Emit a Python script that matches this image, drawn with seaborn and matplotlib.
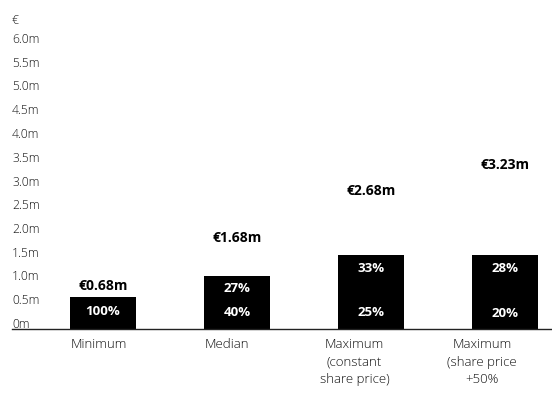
import numpy as np
import pandas as pd
import seaborn as sns
import matplotlib.pyplot as plt
from matplotlib.transforms import ScaledTranslation

# Remuneration scenarios (€m) and the share of each pay element (%)
categories = ["Minimum", "Median", "Maximum\n(constant\nshare price)", "Maximum\n(share price\n+50%"]
total_pay = [0.68, 1.68, 2.68, 3.23]
fixed_share = [100, 40, 25, 20]
bonus_share = [0, 27, 33, 28]
long_term_share = [0, 33, 42, 52]

y_ticks = [0.0, 0.5, 1.0, 1.5, 2.0, 2.5, 3.0, 3.5, 4.0, 4.5, 5.0, 5.5, 6.0]
y_tick_labels = ["0m", "0.5m", "1.0m", "1.5m", "2.0m", "2.5m", "3.0m",
                 "3.5m", "4.0m", "4.5m", "5.0m", "5.5m", "6.0m"]

TEXT = "#111111"

sns.set_theme(style="white")
plt.rcParams["font.family"] = ["Open Sans", "DejaVu Sans"]
plt.rcParams["font.weight"] = "light"

df = pd.DataFrame({
    "scenario": categories,
    "total": total_pay,
    "fixed": np.array(total_pay) * np.array(fixed_share) / 100,
    "bonus": np.array(total_pay) * np.array(bonus_share) / 100,
    "lti": np.array(total_pay) * np.array(long_term_share) / 100,
})
df["to_bonus"] = df["fixed"] + df["bonus"]
df["to_lti"] = df["to_bonus"] + df["lti"]

fig = plt.figure(figsize=(5.52, 4.14), dpi=100)
ax = fig.add_axes([12 / 552, 84 / 414, 540 / 552, 285 / 414])

# Layered stacks: tallest cumulative first, shorter ones on top
layers = [("to_lti", "white"), ("to_bonus", "black"), ("fixed", "black")]
for col, colour in layers:
    sns.barplot(data=df, x="scenario", y=col, color=colour, saturation=1,
                width=0.49, errorbar=None, ax=ax, linewidth=0)

ax.set_xlim(-91 / 134, 449 / 134)
ax.set_ylim(0, 6.0)
ax.set_xlabel("")
ax.set_ylabel("")

for spine in ["top", "left", "right"]:
    ax.spines[spine].set_visible(False)
ax.spines["bottom"].set_color("#222222")
ax.spines["bottom"].set_linewidth(1.0)

# y tick labels sit left-aligned, just above their gridline
ax.set_yticks(y_ticks)
ax.set_yticklabels(y_tick_labels)
ax.tick_params(axis="y", length=0, pad=0, labelsize=8.7, labelcolor=TEXT)
for lab in ax.get_yticklabels():
    lab.set_horizontalalignment("left")
    lab.set_fontweight("light")
    lab.set_transform(lab.get_transform() + ScaledTranslation(0, 7 / 100, fig.dpi_scale_trans))

ax.tick_params(axis="x", length=0, pad=6, labelsize=9.5, labelcolor=TEXT)
for i, lab in enumerate(ax.get_xticklabels()):
    lab.set_linespacing(1.45)
    lab.set_verticalalignment("top")
    lab.set_fontweight("light")
    shift = -(4 + 6.3 * i) / 100
    lab.set_transform(lab.get_transform() + ScaledTranslation(shift, 0, fig.dpi_scale_trans))

fig.text(12 / 552, 1 - 20 / 414, "€", ha="left", va="center", fontsize=8.7,
         color=TEXT, fontweight="light")

# segment and total labels
for i, row in df.iterrows():
    ax.annotate(f"{fixed_share[i]}%", xy=(i, row["fixed"]), xytext=(0, -14),
                textcoords="offset pixels", ha="center", va="center",
                color="white", fontweight="bold", fontsize=9.5)
    if bonus_share[i] > 0:
        ax.annotate(f"{bonus_share[i]}%", xy=(i, row["to_bonus"]), xytext=(0, -12),
                    textcoords="offset pixels", ha="center", va="center",
                    color="white", fontweight="bold", fontsize=9.5)
    ax.annotate(f"€{total_pay[i]:.2f}m", xy=(i, row["total"]), xytext=(0, 12),
                textcoords="offset pixels", ha="center", va="center",
                color="black", fontweight="bold", fontsize=10)

fig.savefig("out.png", dpi=100)
